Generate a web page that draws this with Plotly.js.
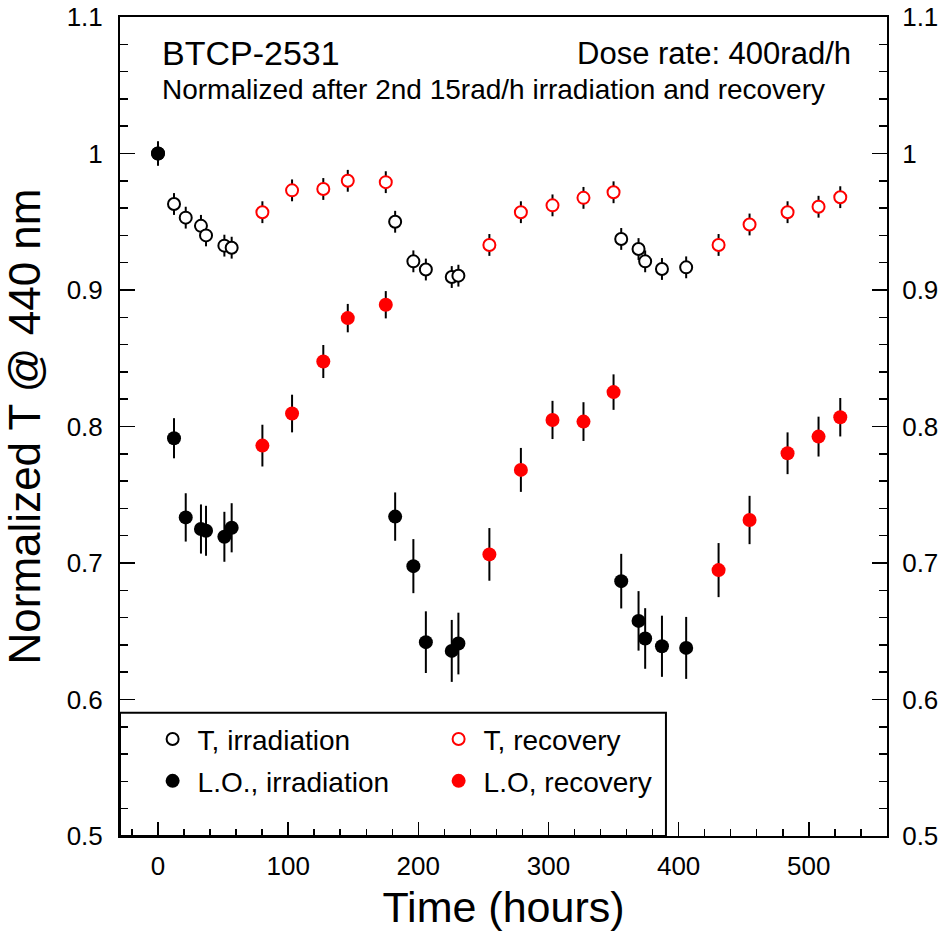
<!DOCTYPE html>
<html>
<head>
<meta charset="utf-8">
<script src="https://cdn.plot.ly/plotly-3.0.1.min.js"></script>
<style>html,body{margin:0;padding:0;background:#fff;}#chart{width:939px;height:932px;}</style>
</head>
<body>
<div id="chart"></div>
<script>
// Irradiation periods (black)
const tIrr = [0, 12.3, 21.3, 33.0, 36.9, 51.0, 56.6, 182.2, 196.2, 205.8, 225.7, 230.8, 355.9, 369.2, 374.3, 387.2, 405.8];
const T_irr = [1.0, 0.963, 0.953, 0.947, 0.940, 0.9325, 0.931, 0.950, 0.921, 0.915, 0.9095, 0.9105, 0.9374, 0.930, 0.921, 0.9154, 0.9166];
const T_irr_err = [0.008, 0.008, 0.008, 0.008, 0.008, 0.008, 0.008, 0.008, 0.008, 0.008, 0.008, 0.008, 0.008, 0.008, 0.008, 0.008, 0.008];
const LO_irr = [1.0, 0.7914, 0.7334, 0.7249, 0.7236, 0.7192, 0.7258, 0.734, 0.6977, 0.642, 0.6356, 0.641, 0.6867, 0.6576, 0.6447, 0.639, 0.6378];
const LO_irr_err = [0.009, 0.0147, 0.0177, 0.018, 0.0183, 0.0183, 0.018, 0.0177, 0.0198, 0.0226, 0.0227, 0.0226, 0.020, 0.0218, 0.0222, 0.0224, 0.0227];

// Recovery periods (red)
const tRec = [80.2, 103, 127, 145.8, 175, 254.6, 278.8, 303.1, 326.9, 350, 430.7, 454.5, 483.7, 507.5, 524.2];
const T_rec = [0.957, 0.973, 0.974, 0.980, 0.979, 0.933, 0.957, 0.962, 0.9675, 0.9716, 0.933, 0.948, 0.957, 0.961, 0.968];
const T_rec_err = [0.008, 0.008, 0.008, 0.008, 0.008, 0.008, 0.008, 0.008, 0.008, 0.008, 0.008, 0.008, 0.008, 0.008, 0.008];
const LO_rec = [0.786, 0.8095, 0.8476, 0.8794, 0.8892, 0.7063, 0.7682, 0.8048, 0.8036, 0.8252, 0.6948, 0.7315, 0.7804, 0.7926, 0.8068];
const LO_rec_err = [0.0153, 0.0138, 0.0121, 0.0104, 0.010, 0.0193, 0.0161, 0.014, 0.0142, 0.013, 0.0198, 0.0177, 0.0153, 0.0146, 0.0141];

const seriesNames = ['T, irradiation', 'T, recovery', 'L.O., irradiation', 'L.O, recovery'];
const FONT = 'Liberation Sans, Arial, Helvetica, sans-serif';

function errBar(arr) {
  return {type: 'data', array: arr, visible: true, color: 'black', thickness: 2, width: 0};
}

const traces = [
  {x: tIrr, y: T_irr, name: seriesNames[0], type: 'scatter', mode: 'markers', legend: 'legend',
   error_y: errBar(T_irr_err),
   marker: {symbol: 'circle', size: 12, color: 'white', line: {color: 'black', width: 2}}},
  {x: tRec, y: T_rec, name: seriesNames[1], type: 'scatter', mode: 'markers', legend: 'legend',
   error_y: errBar(T_rec_err),
   marker: {symbol: 'circle', size: 12, color: 'white', line: {color: '#ff0000', width: 2}}},
  {x: tIrr, y: LO_irr, name: seriesNames[2], type: 'scatter', mode: 'markers', legend: 'legend2',
   error_y: errBar(LO_irr_err),
   marker: {symbol: 'circle', size: 14, color: 'black', line: {width: 0}}},
  {x: tRec, y: LO_rec, name: seriesNames[3], type: 'scatter', mode: 'markers', legend: 'legend2', yaxis: 'y2',
   error_y: errBar(LO_rec_err),
   marker: {symbol: 'circle', size: 14, color: '#ff0000', line: {width: 0}}}
];

const yCommon = {
  range: [0.5, 1.1], dtick: 0.1, tick0: 0.5, ticks: 'inside', ticklen: 15, tickwidth: 1.5, tickcolor: 'black',
  showline: true, linewidth: 2, linecolor: 'black', showgrid: false, zeroline: false, automargin: false,
  tickfont: {family: FONT, size: 26, color: 'black'},
  minor: {dtick: 0.02, ticks: 'inside', ticklen: 8, tickwidth: 1.5, tickcolor: 'black', showgrid: false}
};

const legendCommon = {
  orientation: 'h', x: 0.036, xanchor: 'left', yanchor: 'middle',
  entrywidth: 231, entrywidthmode: 'pixels', itemwidth: 40,
  bgcolor: 'rgba(0,0,0,0)', borderwidth: 0,
  font: {family: FONT, size: 28, color: 'black'}
};

const layout = {
  width: 939, height: 932,
  margin: {l: 120, r: 52, t: 17, b: 96, pad: 0},
  paper_bgcolor: 'white', plot_bgcolor: 'white',
  font: {family: FONT, color: 'black'},
  showlegend: true,
  xaxis: {
    range: [-29.2, 560.1], dtick: 100, tick0: 0, ticks: 'inside', ticklen: 14, tickwidth: 1.5, tickcolor: 'black',
    showline: true, linewidth: 2, linecolor: 'black', mirror: true, showgrid: false, zeroline: false, automargin: false,
    tickfont: {family: FONT, size: 26, color: 'black'}, ticklabelstandoff: 6,
    minor: {dtick: 20, ticks: 'inside', ticklen: 7, tickwidth: 1.5, tickcolor: 'black', showgrid: false},
    title: {text: 'Time (hours)', font: {family: FONT, size: 43, color: 'black'}, standoff: 12}
  },
  yaxis: Object.assign({}, yCommon, {
    side: 'left', ticklabelstandoff: 10,
    title: {text: 'Normalized T @ 440 nm', font: {family: FONT, size: 44, color: 'black'}, standoff: 15}
  }),
  yaxis2: Object.assign({}, yCommon, {
    side: 'right', overlaying: 'y', ticklabelstandoff: 8
  }),
  legend: Object.assign({}, legendCommon, {y: 0.118}),
  legend2: Object.assign({}, legendCommon, {y: 0.067}),
  shapes: [
    {type: 'rect', xref: 'paper', yref: 'paper', x0: 0, x1: 0.7118, y0: 0, y1: 0.1506,
     line: {color: 'black', width: 2}, fillcolor: 'rgba(0,0,0,0)', layer: 'below'}
  ],
  annotations: [
    {text: 'BTCP-2531', xref: 'paper', yref: 'paper', x: 0.052, y: 0.956, xanchor: 'left', yanchor: 'middle',
     showarrow: false, font: {family: FONT, size: 34, color: 'black'}},
    {text: 'Normalized after 2nd 15rad/h irradiation and recovery', xref: 'paper', yref: 'paper', x: 0.052, y: 0.912,
     xanchor: 'left', yanchor: 'middle', showarrow: false, font: {family: FONT, size: 28, color: 'black'}},
    {text: 'Dose rate: 400rad/h', xref: 'paper', yref: 'paper', x: 0.956, y: 0.956, xanchor: 'right', yanchor: 'middle',
     showarrow: false, font: {family: FONT, size: 31, color: 'black'}}
  ]
};

Plotly.newPlot('chart', traces, layout, {displayModeBar: false, staticPlot: true});
</script>
</body>
</html>
